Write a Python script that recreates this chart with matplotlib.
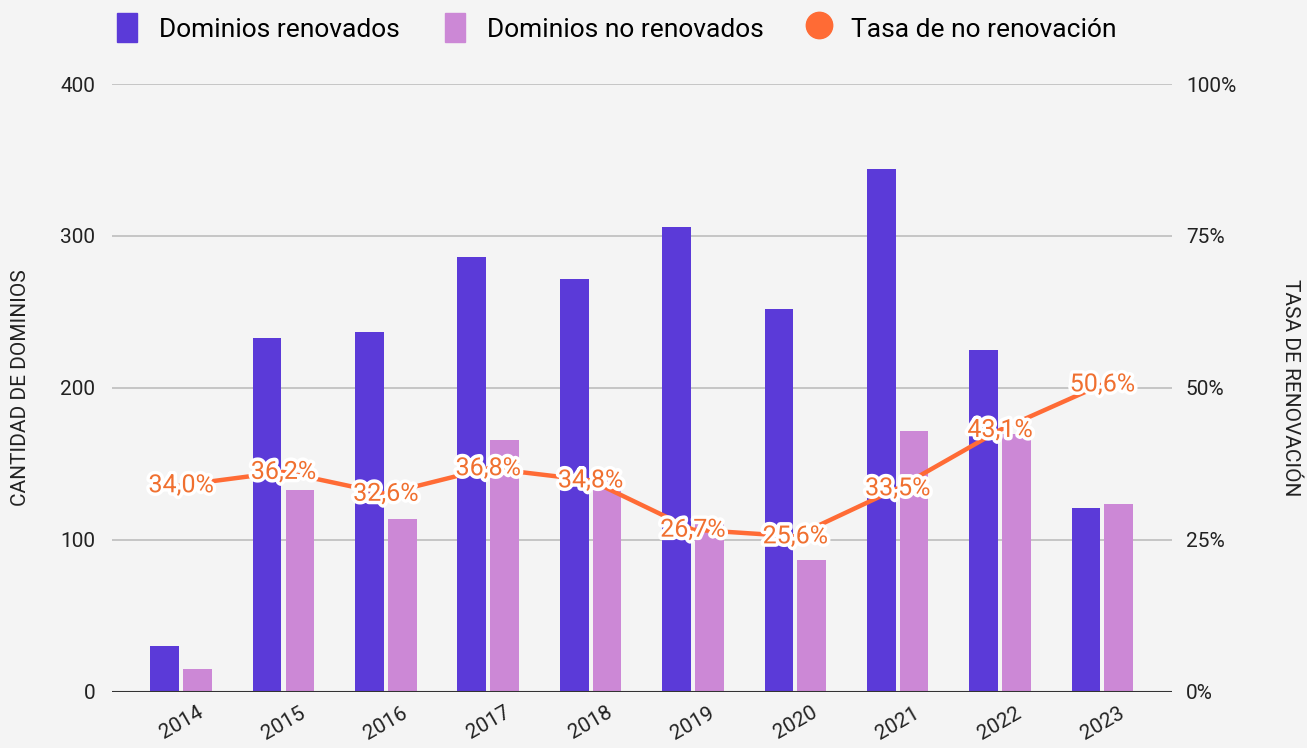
import numpy as np
import matplotlib.pyplot as plt
import matplotlib.patheffects as pe
from matplotlib.lines import Line2D
from matplotlib.patches import Patch

years = ["2014", "2015", "2016", "2017", "2018", "2019", "2020", "2021", "2022", "2023"]
renovados = [30, 233, 237, 286, 272, 306, 252, 344, 225, 121]
no_renovados = [15, 133, 114, 166, 145, 111, 87, 172, 170, 124]
tasa = [34.0, 36.2, 32.6, 36.8, 34.8, 26.7, 25.6, 33.5, 43.1, 50.6]

C_REN = "#5b3ad8"
C_NOREN = "#cc88d6"
C_LINE = "#ff6b35"
BG = "#f4f4f4"

plt.rcParams["font.family"] = ["Roboto", "DejaVu Sans"]

fig = plt.figure(figsize=(13.07, 7.48), dpi=100, facecolor=BG)
ax = fig.add_axes([0.0857, 0.0749, 0.811, 0.8128], facecolor=BG)
ax2 = ax.twinx()

x = np.arange(len(years))
w = 0.28
ax.bar(x - 0.16, renovados, w, color=C_REN, zorder=2)
ax.bar(x + 0.16, no_renovados, w, color=C_NOREN, zorder=2)

ax.set_xlim(-0.675, 9.68)
ax.set_ylim(0, 400)
ax.set_yticks([0, 100, 200, 300, 400])
ax.grid(axis="y", color="#bdbdbd", linewidth=1.2, zorder=0)
ax.axhline(0, color="#333333", linewidth=1.5, zorder=3)
for s in ax.spines.values():
    s.set_visible(False)
for s in ax2.spines.values():
    s.set_visible(False)
ax.tick_params(axis="y", length=0, pad=12, labelsize=15, labelcolor="#222222")
ax.tick_params(axis="x", length=0, pad=8, labelsize=15, labelcolor="#222222")
ax.set_xticks(x)
ax.set_xticklabels(years, rotation=30, ha="center")
ax.set_ylabel("CANTIDAD DE DOMINIOS", fontsize=15, color="#222222", labelpad=22)

ax2.plot(x, tasa, color=C_LINE, linewidth=3.2, zorder=4)
ax2.set_ylim(0, 100)
ax2.set_yticks([0, 25, 50, 75, 100])
ax2.set_yticklabels([f"{v}%" for v in [0, 25, 50, 75, 100]])
ax2.tick_params(axis="y", length=0, pad=10, labelsize=15, labelcolor="#222222")
ax2.set_ylabel("TASA DE RENOVACIÓN", fontsize=15, color="#222222", rotation=270,
               labelpad=46)
for xi, v in zip(x, tasa):
    ax2.text(xi, v, f"{v:.1f}%".replace(".", ","), ha="center", va="center",
             fontsize=18, color="#f07030", zorder=5,
             path_effects=[pe.withStroke(linewidth=5, foreground="white")])

handles = [
    Patch(color=C_REN, label="Dominios renovados"),
    Patch(color=C_NOREN, label="Dominios no renovados"),
    Line2D([], [], marker="o", linestyle="", markersize=19, color=C_LINE,
           label="Tasa de no renovación"),
]
fig.legend(handles=handles, loc="center", bbox_to_anchor=(0.472, 0.963), ncol=3,
           frameon=False, fontsize=19, handlelength=0.75, handleheight=1.3,
           columnspacing=1.7, handletextpad=0.85)

fig.savefig("out.png", dpi=100, facecolor=BG)
